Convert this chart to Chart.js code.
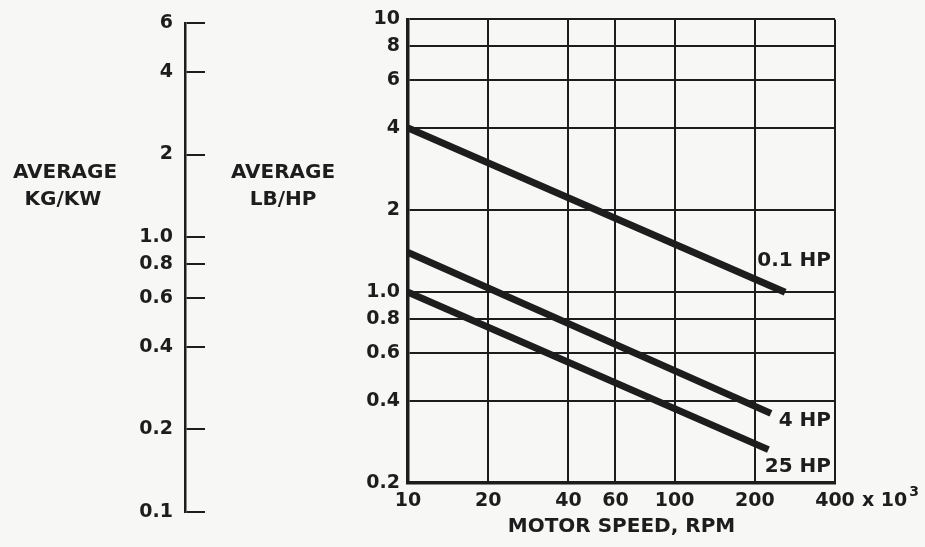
<!DOCTYPE html>
<html>
<head>
<meta charset="utf-8">
<script src="https://cdn.jsdelivr.net/npm/chart.js@4.4.1/dist/chart.umd.min.js"></script>
<style>
  html, body { margin: 0; padding: 0; background: #f7f7f5; }
  #wrap { position: relative; width: 925px; height: 547px; }
  #mainChart, #kgChart { position: absolute; left: 0; top: 0; }
</style>
</head>
<body>
<div id="wrap">
  <canvas id="mainChart" width="925" height="547"></canvas>
  <canvas id="kgChart" width="215" height="547"></canvas>
</div>
<script>
// motor speed in 10^3 rpm, weight in lb/hp (kg/kW on the side scale)
const speedTicks = [10, 20, 40, 60, 100, 200, 400];
const lbTicks = [0.2, 0.4, 0.6, 0.8, 1, 2, 4, 6, 8, 10];
const kgTicks = [0.1, 0.2, 0.4, 0.6, 0.8, 1, 2, 4, 6];

const seriesNames = ["0.1 HP", "4 HP", "25 HP"];
const hp01Speed = [10, 260];
const hp01Weight = [4.0, 1.0];
const hp4Speed = [10, 230];
const hp4Weight = [1.4, 0.36];
const hp25Speed = [10, 225];
const hp25Weight = [1.0, 0.265];

const FONT = "'DejaVu Sans', sans-serif";
const INK = "#1d1d1d";
const tickFont = { family: FONT, size: 19, weight: "bold" };

function toPoints(xs, ys) {
  return xs.map((x, i) => ({ x, y: ys[i] }));
}

function fmt(v) {
  return v === 1 ? "1.0" : String(v);
}

function lineSet(label, xs, ys) {
  return {
    label,
    data: toPoints(xs, ys),
    borderColor: INK,
    borderWidth: 7,
    borderCapStyle: "butt",
    pointRadius: 0,
    tension: 0,
    fill: false
  };
}

// curve names sit just off the end of each line, against the right frame
const labelShift = [-31, 7, 17];

const annotate = {
  id: "annotate",
  afterDraw(chart) {
    const { ctx, chartArea, scales } = chart;
    ctx.save();
    ctx.fillStyle = INK;
    ctx.font = `bold 20px ${FONT}`;
    ctx.textAlign = "center";
    ctx.textBaseline = "middle";
    ctx.fillText("AVERAGE", 65, 173);
    ctx.fillText("KG/KW", 63, 200);
    ctx.fillText("AVERAGE", 283, 173);
    ctx.fillText("LB/HP", 283, 200);

    ctx.textAlign = "right";
    chart.data.datasets.forEach((ds, i) => {
      const last = ds.data[ds.data.length - 1];
      const y = scales.y.getPixelForValue(last.y) + labelShift[i];
      ctx.fillText(ds.label, chartArea.right - 4, y);
    });

    // "x 10^3" after the last speed tick
    const xEnd = scales.x.getPixelForValue(speedTicks[speedTicks.length - 1]);
    ctx.textAlign = "left";
    ctx.font = `bold 19px ${FONT}`;
    ctx.fillText("x 10", xEnd + 27, 501);
    const w = ctx.measureText("x 10").width;
    ctx.font = `bold 14px ${FONT}`;
    ctx.fillText("3", xEnd + 29 + w, 492);
    ctx.restore();
  }
};

new Chart(document.getElementById("mainChart"), {
  type: "line",
  data: {
    datasets: [
      lineSet(seriesNames[0], hp01Speed, hp01Weight),
      lineSet(seriesNames[1], hp4Speed, hp4Weight),
      lineSet(seriesNames[2], hp25Speed, hp25Weight)
    ]
  },
  options: {
    responsive: false,
    animation: false,
    devicePixelRatio: 1,
    layout: { padding: { left: 0, top: 17, right: 90, bottom: 0 } },
    plugins: { legend: { display: false }, tooltip: { enabled: false } },
    scales: {
      x: {
        type: "logarithmic",
        min: 10,
        max: 400,
        afterBuildTicks: s => { s.ticks = speedTicks.map(v => ({ value: v })); },
        afterFit: s => { s.height = 64; },
        grid: { color: INK, lineWidth: 2, drawTicks: false },
        border: { color: INK, width: 3.5 },
        ticks: {
          color: INK,
          font: tickFont,
          padding: 7,
          maxRotation: 0,
          autoSkip: false,
          callback: v => String(v)
        },
        title: {
          display: true,
          text: "MOTOR SPEED, RPM",
          color: INK,
          font: { family: FONT, size: 20, weight: "bold" },
          padding: { top: 0, bottom: 8 }
        }
      },
      y: {
        type: "logarithmic",
        min: 0.2,
        max: 10,
        afterBuildTicks: s => { s.ticks = lbTicks.map(v => ({ value: v })); },
        afterFit: s => { s.width = 408; },
        grid: { color: INK, lineWidth: 2, drawTicks: false },
        border: { color: INK, width: 3.5 },
        ticks: {
          color: INK,
          font: tickFont,
          padding: 8,
          autoSkip: false,
          callback: v => fmt(v)
        }
      }
    }
  },
  plugins: [annotate]
});

// side scale in kg/kW
new Chart(document.getElementById("kgChart"), {
  type: "line",
  data: { datasets: [] },
  options: {
    responsive: false,
    animation: false,
    devicePixelRatio: 1,
    layout: { padding: { left: 0, top: 19, right: 10, bottom: 35 } },
    plugins: { legend: { display: false }, tooltip: { enabled: false } },
    scales: {
      x: { type: "linear", display: false },
      y: {
        type: "logarithmic",
        min: 0.1,
        max: 6,
        position: "left",
        afterBuildTicks: s => { s.ticks = kgTicks.map(v => ({ value: v })); },
        afterFit: s => { s.width = 185; },
        grid: { color: INK, lineWidth: 2, drawTicks: false },
        border: { color: INK, width: 2.5 },
        ticks: {
          color: INK,
          font: tickFont,
          padding: 12,
          autoSkip: false,
          callback: v => fmt(v)
        }
      }
    }
  }
});
</script>
</body>
</html>
